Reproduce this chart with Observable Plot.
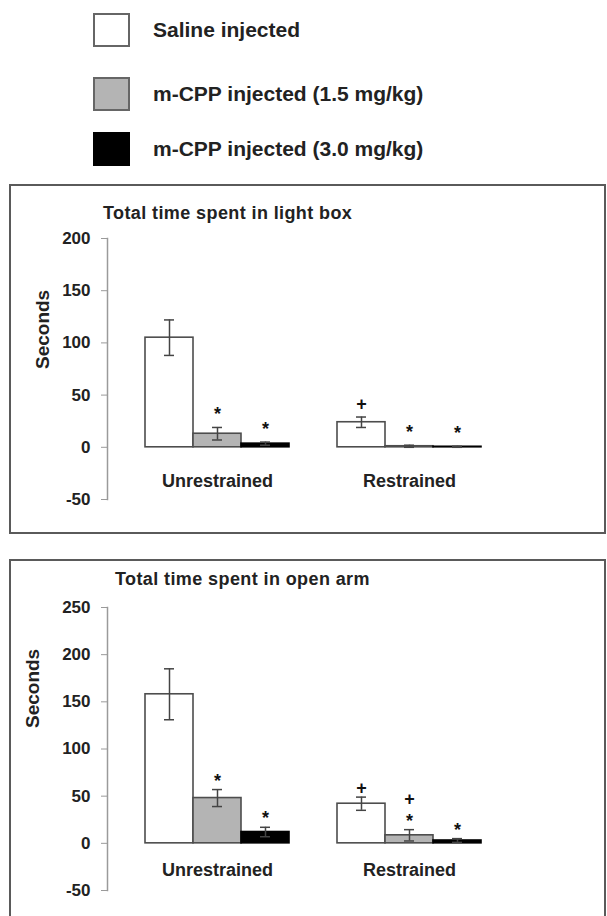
<!DOCTYPE html>
<html><head><meta charset="utf-8">
<script src="https://cdn.jsdelivr.net/npm/d3@7"></script>
<script src="https://cdn.jsdelivr.net/npm/@observablehq/plot@0.6"></script>
<style>
body{margin:0;background:#fff;font-family:"Liberation Sans",Arial,sans-serif;}
#page{position:relative;width:607px;height:916px;overflow:hidden;background:#fff}
.frame{position:absolute;box-sizing:border-box;border:2px solid #5a5a5a}
.panel{position:absolute;left:0}
.title{position:absolute;font-weight:bold;font-size:18px;letter-spacing:0.4px;line-height:20px;color:#222;white-space:nowrap}
.sw{position:absolute;box-sizing:border-box;width:37px;height:34px;border:2px solid #666}
.lt{position:absolute;font-weight:bold;font-size:21px;line-height:24px;color:#222;white-space:nowrap}
</style></head><body><div id="page"></div>
<script>
// ---- data ----
const conditions = ["Unrestrained", "Restrained"];
const treatments = ["Saline injected", "m-CPP injected (1.5 mg/kg)", "m-CPP injected (3.0 mg/kg)"];
const fills = ["#ffffff", "#b4b4b4", "#000000"];

const lightTitle = "Total time spent in light box";
const lightMean = [105, 13, 3.5, 24, 1, 0.5];
const lightSE   = [17, 6, 1.5, 5, 1, 0.5];
const lightSig  = ["", "*", "*", "+", "*", "*"];
const lightTicks = [-50, 0, 50, 100, 150, 200];

const armTitle = "Total time spent in open arm";
const armMean = [158, 48, 12, 42, 8.5, 3];
const armSE   = [27, 9, 5, 7, 6, 2];
const armSig  = ["", "*", "*", "+", "+\n*", "*"];
const armTicks = [-50, 0, 50, 100, 150, 200, 250];

const yLabel = "Seconds";

// ---- build ----
const page = document.getElementById("page");
const key = (c, t) => c + " / " + t;
const slots = conditions.flatMap((c, i) => [
  ...treatments.map(t => key(c, t)),
  ...(i < conditions.length - 1 ? ["gap " + i] : [])
]);
function rows(mean, se, sig) {
  return conditions.flatMap((c, i) => treatments.map((t, j) => {
    const k = i * treatments.length + j;
    return {condition: c, treatment: t, slot: key(c, t), mean: mean[k], se: se[k], sig: sig[k]};
  }));
}

// legend
const legendTops = [13, 77, 132];
treatments.forEach((t, i) => {
  const sw = document.createElement("div");
  sw.className = "sw";
  sw.style.left = "93px";
  sw.style.top = legendTops[i] + "px";
  sw.style.background = fills[i];
  if (i === 2) sw.style.borderColor = "#000";
  page.appendChild(sw);
  const lt = document.createElement("div");
  lt.className = "lt";
  lt.style.left = "153px";
  lt.style.top = (legendTops[i] + 5) + "px";
  lt.textContent = t;
  page.appendChild(lt);
});

function panel(cfg) {
  const data = rows(cfg.mean, cfg.se, cfg.sig);
  const fr = document.createElement("div");
  fr.className = "frame";
  fr.style.left = "9px"; fr.style.top = cfg.frameTop + "px";
  fr.style.width = "597px"; fr.style.height = cfg.frameH + "px";
  page.appendChild(fr);

  const ticks = cfg.ticks;
  const chart = Plot.plot({
    width: 607, height: cfg.height,
    marginLeft: 107, marginRight: 89, marginTop: cfg.marginTop, marginBottom: cfg.marginBottom,
    style: {fontFamily: "Liberation Sans, Arial, sans-serif", fontSize: "17px", fontWeight: "bold", color: "#222", background: "transparent", overflow: "visible"},
    x: {domain: slots, paddingInner: 0, paddingOuter: 0.694, axis: null},
    y: {domain: [ticks[0], ticks[ticks.length - 1]]},
    color: {domain: treatments, range: fills},
    marks: [
      Plot.frame({anchor: "left", stroke: "#9a9a9a", strokeWidth: 1.5}),
      Plot.axisY(ticks, {tickSize: 6, tickPadding: 11, tickFormat: d => String(d), stroke: "#9a9a9a", fill: "#222", label: null, fontSize: 17, fontWeight: "bold"}),
      Plot.barY(data, {x: "slot", y: "mean", fill: "treatment", stroke: d => d.treatment === treatments[2] ? "#000" : "#4d4d4d", strokeWidth: 1.6}),
      Plot.ruleX(data, {x: "slot", y1: d => d.mean - d.se, y2: d => d.mean + d.se, stroke: "#444", strokeWidth: 1.5}),
      Plot.tickY(data, {x: "slot", y: d => d.mean + d.se, insetLeft: 19, insetRight: 19, stroke: "#444", strokeWidth: 1.5}),
      Plot.tickY(data, {x: "slot", y: d => d.mean - d.se, insetLeft: 19, insetRight: 19, stroke: "#444", strokeWidth: 1.5}),
      Plot.text(data, {x: "slot", y: d => d.mean + d.se, text: "sig", lineAnchor: "bottom", lineHeight: 1.2, dy: cfg.sigDy, fontSize: 18, fontWeight: "bold", fill: "#111"}),
      Plot.text(conditions, {x: c => key(c, treatments[1]), frameAnchor: "bottom", dy: cfg.labelDy, text: d => d, fontSize: 18, fontWeight: "bold", fill: "#222"}),
      Plot.text([yLabel], {frameAnchor: "left", text: d => d, rotate: -90, dx: cfg.yLabelDx, dy: cfg.yLabelDy, fontSize: 19, fontWeight: "bold", fill: "#222"})
    ]
  });
  chart.classList.add("panel");
  chart.style.top = cfg.svgTop + "px";
  page.appendChild(chart);

  const ti = document.createElement("div");
  ti.className = "title";
  ti.style.left = cfg.titleLeft + "px";
  ti.style.top = cfg.titleTop + "px";
  ti.textContent = cfg.title;
  page.appendChild(ti);
}

panel({mean: lightMean, se: lightSE, sig: lightSig, ticks: lightTicks, title: lightTitle,
  frameTop: 184, frameH: 350, svgTop: 185, height: 349, marginTop: 53, marginBottom: 35,
  labelDy: -13, sigDy: -7, yLabelDx: -65, yLabelDy: 0, titleLeft: 103, titleTop: 203});
panel({mean: armMean, se: armSE, sig: armSig, ticks: armTicks, title: armTitle,
  frameTop: 559, frameH: 420, svgTop: 560, height: 356, marginTop: 47, marginBottom: 26,
  labelDy: -15, sigDy: -3, yLabelDx: -75, yLabelDy: -21, titleLeft: 115, titleTop: 569});
</script>
</body></html>
